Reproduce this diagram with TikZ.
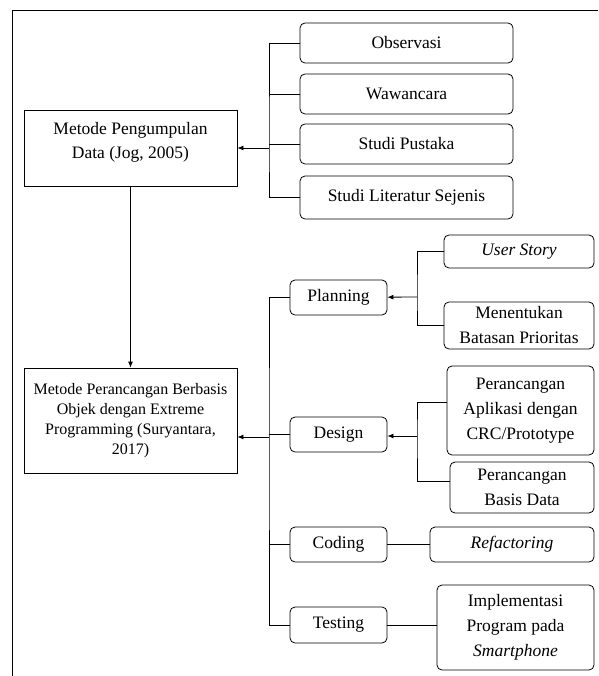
\documentclass[tikz,border=0pt]{standalone}
\usepackage{fontspec}
\setmainfont{Liberation Serif}
\usetikzlibrary{arrows.meta}

\tikzset{
    kotak/.style={draw, thick, rounded corners=5pt, align=center, inner sep=2pt,
        font=\fontsize{17.5}{25}\selectfont},
    metode/.style={draw, thick, align=center, inner sep=2pt},
    garis/.style={thick},
    panah/.style={thick, -{Latex[length=6pt,width=5pt]}}
}

\begin{document}
\begin{tikzpicture}[x=1pt, y=-1pt]
    \useasboundingbox (0,0) rectangle (598,676);
    % bingkai
    \draw[garis] (598,10) -- (12,10) -- (12,676);

    % metode utama
    \node[metode, minimum width=213pt, minimum height=76pt, font=\fontsize{17.5}{24}\selectfont]
        (kumpul) at (130.5,148) {Metode Pengumpulan\\Data (Jog, 2005)\\[-8pt]};
    \node[metode, minimum width=213pt, minimum height=105pt, font=\fontsize{16}{20}\selectfont]
        (rancang) at (130.5,420.5) {Metode Perancangan Berbasis\\Objek dengan Extreme\\Programming (Suryantara,\\2017)};
    \draw[panah] (kumpul) -- (rancang);

    % pengumpulan data
    \node[kotak, minimum width=213pt, minimum height=40pt] (observasi) at (406.5,43) {Observasi};
    \node[kotak, minimum width=213pt, minimum height=40pt] (wawancara) at (406.5,94) {Wawancara};
    \node[kotak, minimum width=213pt, minimum height=40pt] (pustaka) at (406.5,144) {Studi Pustaka};
    \node[kotak, minimum width=213pt, minimum height=43pt] (literatur) at (406.5,197.5) {Studi Literatur Sejenis};

    \coordinate (cabang1) at (269,148);
    \draw[garis] (observasi.west) -| (cabang1) |- (literatur.west);
    \draw[garis] (wawancara.west) -- (cabang1 |- wawancara.west);
    \draw[garis] (pustaka.west) -- (cabang1 |- pustaka.west);
    \draw[panah] (cabang1) -- (kumpul);

    % tahapan XP
    \node[kotak, minimum width=97pt, minimum height=35pt] (planning) at (338.5,297.5) {Planning};
    \node[kotak, minimum width=97pt, minimum height=35pt] (design) at (338.5,434.5) {Design};
    \node[kotak, minimum width=97pt, minimum height=35pt] (coding) at (338.5,544.5) {Coding};
    \node[kotak, minimum width=97pt, minimum height=36pt] (testing) at (338.5,625) {Testing};

    \coordinate (cabang2) at (269,437);
    \draw[garis] (planning.west) -| (cabang2) |- (testing.west);
    \draw[garis] (design.west) -- (cabang2 |- design.west);
    \draw[garis] (coding.west) -- (cabang2 |- coding.west);
    \draw[panah] (cabang2) -- (cabang2 -| rancang.east);

    % planning
    \node[kotak, minimum width=150pt, minimum height=33pt] (story) at (519,251.5) {\textit{User Story}};
    \node[kotak, minimum width=150pt, minimum height=47pt] (prioritas) at (519,325.5) {Menentukan\\Batasan Prioritas};
    \coordinate (cabang3) at (417,297);
    \draw[garis] (story.west) -| (cabang3) |- (prioritas.west);
    \draw[panah] (cabang3) -- (planning);

    % design
    \node[kotak, minimum width=147pt, minimum height=89pt] (crc) at (520.5,410.5) {Perancangan\\Aplikasi dengan\\CRC/Prototype};
    \node[kotak, minimum width=144pt, minimum height=51pt] (basisdata) at (522,487.5) {Perancangan\\Basis Data};
    \coordinate (cabang4) at (417,436);
    \draw[garis] (crc.west |- 0,402) -| (cabang4) |- (basisdata.west |- 0,481);
    \draw[panah] (cabang4) -- (cabang4 -| design.east);

    % coding dan testing
    \node[kotak, minimum width=164pt, minimum height=35pt] (refactor) at (512,544.5) {\textit{Refactoring}};
    \node[kotak, minimum width=157pt, minimum height=85pt] (implementasi) at (515.5,627.5) {Implementasi\\Program pada\\\textit{Smartphone}};
    \draw[garis] (coding) -- (refactor);
    \draw[garis] (testing) -- (testing -| implementasi.west);
\end{tikzpicture}
\end{document}
